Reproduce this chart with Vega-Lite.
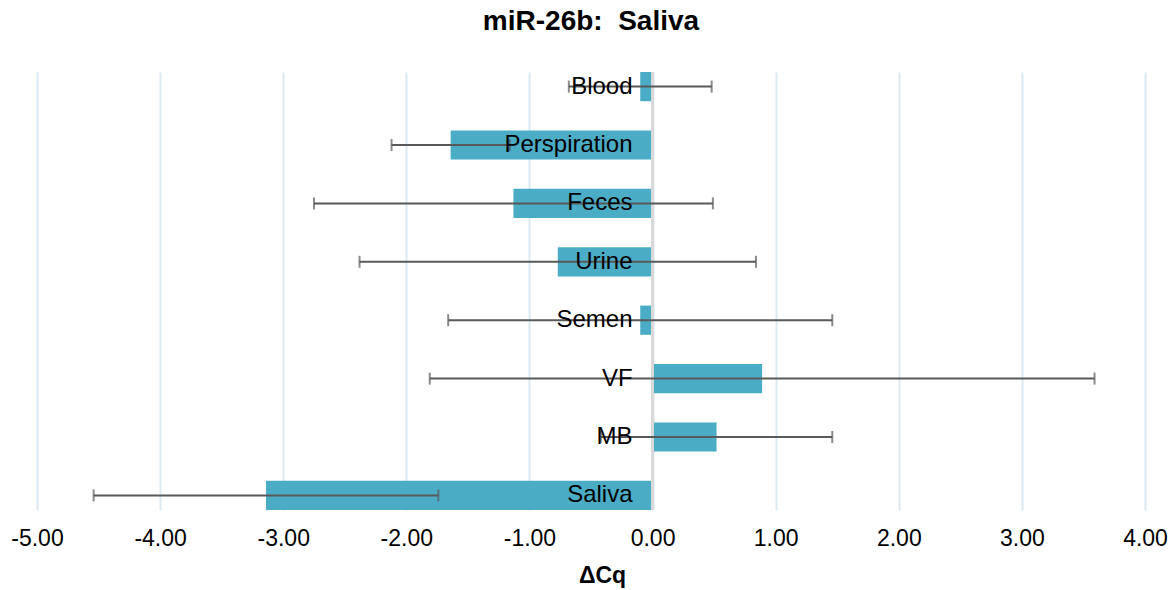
{
  "$schema": "https://vega.github.io/schema/vega-lite/v6.json",
  "width": 1108,
  "height": 438,
  "autosize": "none",
  "padding": {"left": 37, "top": 72, "right": 30, "bottom": 80},
  "background": "white",
  "config": {"view": {"stroke": null}},
  "title": {
    "text": "miR-26b:\u00a0 Saliva",
    "font": "Liberation Sans",
    "fontSize": 28,
    "fontWeight": "bold",
    "color": "#000000",
    "anchor": "middle",
    "offset": 35
  },
  "data": {
    "values": [
      {"sample": "Blood", "dcq": -0.10, "err": 0.58},
      {"sample": "Perspiration", "dcq": -1.64, "err": 0.48},
      {"sample": "Feces", "dcq": -1.13, "err": 1.62},
      {"sample": "Urine", "dcq": -0.77, "err": 1.61},
      {"sample": "Semen", "dcq": -0.10, "err": 1.56},
      {"sample": "VF", "dcq": 0.89, "err": 2.70},
      {"sample": "MB", "dcq": 0.52, "err": 0.94},
      {"sample": "Saliva", "dcq": -3.14, "err": 1.40}
    ]
  },
  "layer": [
    {
      "mark": {"type": "bar", "color": "#4BACC6"},
      "encoding": {
        "y": {
          "field": "sample",
          "type": "nominal",
          "sort": null,
          "axis": null,
          "scale": {"paddingInner": 0.5, "paddingOuter": 0}
        },
        "x": {
          "field": "dcq",
          "type": "quantitative",
          "title": "ΔCq",
          "scale": {"domain": [-5, 4], "nice": false},
          "axis": {
            "values": [-5, -4, -3, -2, -1, 0, 1, 2, 3, 4],
            "labelExpr": "replace(format(datum.value, '.2f'), '\u2212', '-')",
            "labelFont": "Liberation Sans",
            "labelFontSize": 23,
            "labelColor": "#000000",
            "labelPadding": 17,
            "labelOverlap": false,
            "labelFlush": false,
            "ticks": false,
            "domain": false,
            "grid": true,
            "gridColor": "#DCEAF4",
            "gridWidth": 2,
            "titleFont": "Liberation Sans",
            "titleFontSize": 23,
            "titleFontWeight": "bold",
            "titleColor": "#000000",
            "titlePadding": 14,
            "titleX": 565,
            "titleAnchor": "middle"
          }
        }
      }
    },
    {
      "mark": {"type": "rule", "color": "#D9D9D9", "strokeWidth": 2},
      "encoding": {"x": {"datum": 0}}
    },
    {
      "mark": {
        "type": "errorbar",
        "color": "#595959",
        "thickness": 2,
        "ticks": true,
        "size": 12
      },
      "encoding": {
        "y": {"field": "sample", "type": "nominal", "sort": null},
        "x": {"field": "dcq", "type": "quantitative", "title": "ΔCq"},
        "xError": {"field": "err"}
      }
    },
    {
      "mark": {
        "type": "text",
        "align": "right",
        "baseline": "middle",
        "dx": -20,
        "font": "Liberation Sans",
        "fontSize": 24,
        "color": "#000000"
      },
      "encoding": {
        "y": {"field": "sample", "type": "nominal", "sort": null},
        "x": {"datum": 0},
        "text": {"field": "sample"}
      }
    }
  ]
}
